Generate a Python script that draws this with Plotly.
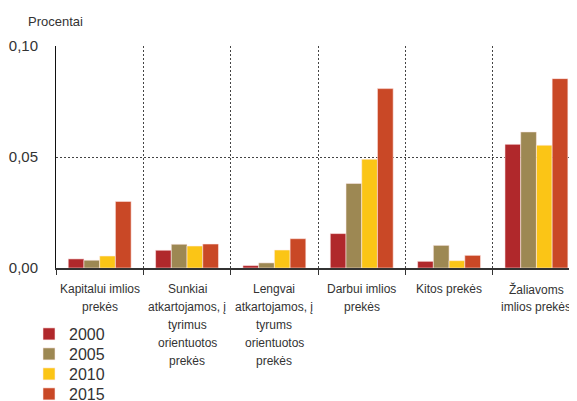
import plotly.graph_objects as go

categories = [
    "Kapitalui imlios<br>prekės",
    "Sunkiai<br>atkartojamos, į<br>tyrimus<br>orientuotos<br>prekės",
    "Lengvai<br>atkartojamos, į<br>tyrums<br>orientuotos<br>prekės",
    "Darbui imlios<br>prekės",
    "Kitos prekės",
    "Žaliavoms<br>imlios prekės",
]
years = ["2000", "2005", "2010", "2015"]
v2000 = [0.0041, 0.0080, 0.0011, 0.0155, 0.0030, 0.0557]
v2005 = [0.0035, 0.0107, 0.0023, 0.0381, 0.0102, 0.0613]
v2010 = [0.0054, 0.0099, 0.0081, 0.0490, 0.0033, 0.0553]
v2015 = [0.0300, 0.0108, 0.0132, 0.0808, 0.0057, 0.0853]
y_ticks = [0.0, 0.05, 0.10]
y_label = "Procentai"

series = [v2000, v2005, v2010, v2015]
colors = ["#B0282B", "#9D8853", "#FBC516", "#C94826"]

# the page body has an 8px margin, so the figure is drawn at (8, 8)
OFF = 8
W, H = 577 - OFF, 401 - OFF
ml, mt = 56.3 - OFF, 45.7 - OFF
bottom = 267.7 - OFF
mr, mb = 0, H - bottom
pw, ph = W - ml - mr, H - mt - mb
cat_w = 87.3
FONT = "Liberation Sans, Arial"

fig = go.Figure()
legend_ids = ["legend", "legend2", "legend3", "legend4"]
for name, vals, col, lg in zip(years, series, colors, legend_ids):
    fig.add_trace(go.Bar(
        x=categories, y=vals, name=name, legend=lg,
        marker=dict(color=col, line=dict(color="rgba(255,235,235,0.7)", width=0.8)),
    ))

# category labels, one annotation per line for line spacing control
annotations = []
for c in categories:
    for i, line in enumerate(c.split("<br>")):
        annotations.append(dict(
            x=c, xref="x", y=0, yref="paper", yanchor="middle", xanchor="center",
            yshift=-(21 + 18 * i), text=line, showarrow=False,
            font=dict(family=FONT, size=12, color="#333333"),
        ))
annotations.append(dict(
    x=(26 - OFF - ml) / pw, xref="paper", y=(bottom - (21 - OFF)) / ph, yref="paper",
    xanchor="left", yanchor="middle", text=y_label, showarrow=False,
    font=dict(family=FONT, size=13, color="#333333"),
))

legends = {}
for k, lg in enumerate(legend_ids):
    top_page = 317 + 20 * k
    legends[lg] = dict(
        orientation="v", xref="container", yref="container",
        x=(29 - OFF) / W, xanchor="left", y=1 - (top_page - OFF) / H, yanchor="top",
        font=dict(family=FONT, size=16, color="#333333"), itemwidth=30,
        bgcolor="rgba(0,0,0,0)",
    )

fig.update_layout(
    width=W, height=H,
    margin=dict(l=ml, r=mr, t=mt, b=mb, pad=0, autoexpand=False),
    paper_bgcolor="white", plot_bgcolor="white",
    barmode="group", bargap=0.28, bargroupgap=0,
    separators=", ",
    font=dict(family=FONT, size=16, color="#333333"),
    showlegend=True,
    annotations=annotations,
    xaxis=dict(
        type="category", range=[-0.5, -0.5 + pw / cat_w], showticklabels=False,
        tickson="boundaries", ticks="outside", ticklen=5, tickcolor="#333333", tickwidth=1,
        showgrid=True, gridcolor="#444444", gridwidth=1, griddash="2px,2px",
        showline=True, linecolor="#333333", linewidth=1.5, zeroline=False,
    ),
    yaxis=dict(
        range=[0, 0.10], tickvals=y_ticks, tickformat=".2f",
        showgrid=True, gridcolor="#444444", gridwidth=1, griddash="2px,2px",
        showline=True, linecolor="#111111", linewidth=1, zeroline=False,
        ticks="", ticklabelstandoff=14,
        tickfont=dict(size=15, color="#333333"),
    ),
    **legends,
)

fig.write_html("out.html")
